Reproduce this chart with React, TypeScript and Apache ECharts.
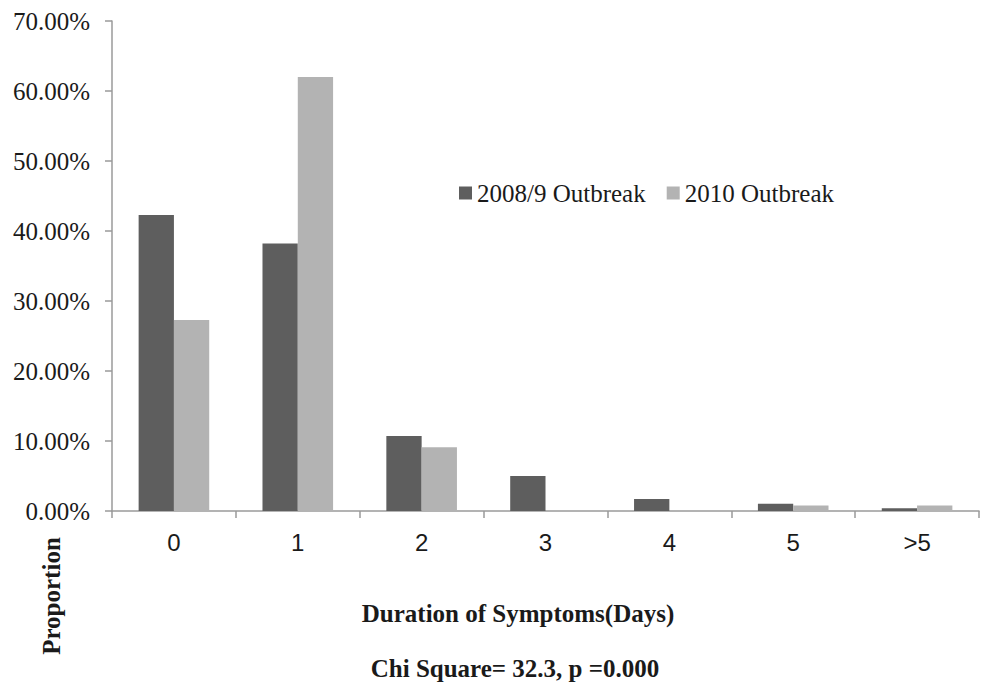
import React, { useEffect, useRef } from "react";
import * as echarts from "echarts";

const categories = ["0", "1", "2", "3", "4", "5", ">5"];
const outbreak2008 = [42.3, 38.2, 10.7, 5.0, 1.7, 1.05, 0.4];
const outbreak2010 = [27.3, 62.0, 9.1, 0, 0, 0.8, 0.8];
const seriesNames = ["2008/9 Outbreak", "2010 Outbreak"];
const yTicks = { min: 0, max: 70, interval: 10 };

export default function App() {
  const ref = useRef<HTMLDivElement>(null);
  useEffect(() => {
    if (!ref.current) return;
    const chart = echarts.init(ref.current, null, { renderer: "svg" });
    const serif = "'Liberation Serif', 'DejaVu Serif', serif";
    const sans = "'Liberation Sans', Arial, sans-serif";
    chart.setOption({
      animation: false,
      backgroundColor: "#ffffff",
      grid: { left: 112, top: 21, right: 7, bottom: 185, containLabel: false },
      legend: {
        left: 454,
        top: 175,
        itemWidth: 13,
        itemHeight: 13,
        itemGap: 21,
        icon: "rect",
        textStyle: { fontFamily: serif, fontSize: 25, color: "#1a1a1a", lineHeight: 26 },
        data: seriesNames,
      },
      xAxis: {
        type: "category",
        data: categories,
        axisLine: { lineStyle: { color: "#9a9a9a", width: 1.5 } },
        axisTick: { show: true, length: 7, alignWithLabel: false, lineStyle: { color: "#9a9a9a", width: 1.5 } },
        axisLabel: { fontFamily: sans, fontSize: 24, color: "#1a1a1a", margin: 19 },
      },
      yAxis: {
        type: "value",
        min: yTicks.min,
        max: yTicks.max,
        interval: yTicks.interval,
        splitLine: { show: false },
        axisLine: { show: true, lineStyle: { color: "#9a9a9a", width: 1.5 } },
        axisTick: { show: true, length: 7, lineStyle: { color: "#9a9a9a", width: 1.5 } },
        axisLabel: {
          fontFamily: serif,
          fontSize: 25,
          color: "#1a1a1a",
          margin: 22,
          formatter: (v: number) => v.toFixed(2) + "%",
        },
      },
      series: [
        {
          name: seriesNames[0],
          type: "bar",
          data: outbreak2008,
          barGap: "0%",
          barCategoryGap: "43%",
          itemStyle: { color: "#5e5e5e" },
        },
        {
          name: seriesNames[1],
          type: "bar",
          data: outbreak2010,
          barGap: "0%",
          barCategoryGap: "43%",
          itemStyle: { color: "#b3b3b3" },
        },
      ],
      graphic: [
        {
          type: "text",
          x: 51,
          y: 596,
          rotation: Math.PI / 2,
          style: {
            text: "Proportion",
            fontFamily: serif,
            fontWeight: "bold",
            fontSize: 25,
            fill: "#1a1a1a",
            textAlign: "center",
            textVerticalAlign: "middle",
          },
        },
        {
          type: "text",
          x: 518,
          y: 613,
          style: {
            text: "Duration of Symptoms(Days)",
            fontFamily: serif,
            fontWeight: "bold",
            fontSize: 25,
            fill: "#1a1a1a",
            textAlign: "center",
            textVerticalAlign: "middle",
          },
        },
        {
          type: "text",
          x: 515,
          y: 668,
          style: {
            text: "Chi Square= 32.3, p =0.000",
            fontFamily: serif,
            fontWeight: "bold",
            fontSize: 25,
            fill: "#1a1a1a",
            textAlign: "center",
            textVerticalAlign: "middle",
          },
        },
      ],
    });
    return () => chart.dispose();
  }, []);
  return <div ref={ref} style={{ width: 986, height: 696, position: "absolute", left: 0, top: 0 }} />;
}
